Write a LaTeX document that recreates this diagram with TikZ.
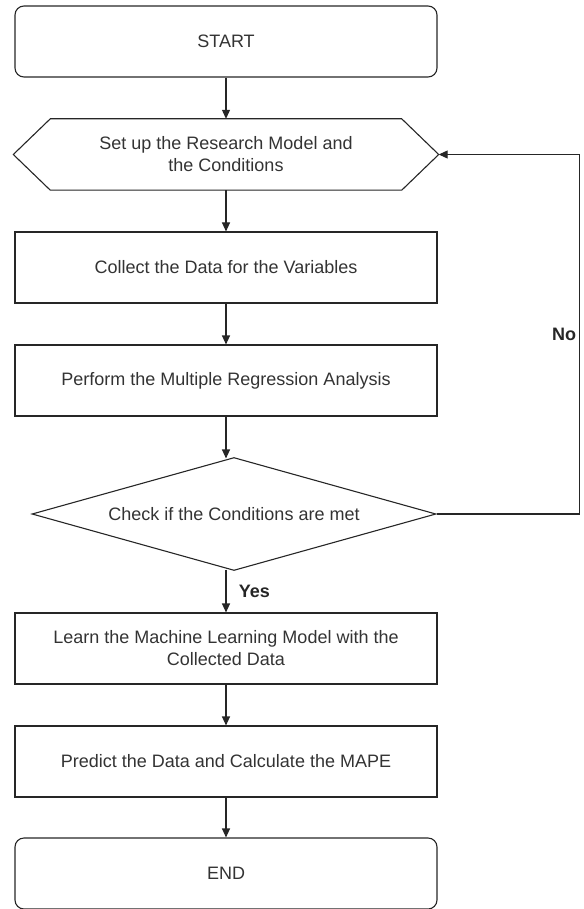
\documentclass[tikz,border=0pt]{standalone}
\usepackage{fontspec}
\setmainfont{Liberation Sans}
\usetikzlibrary{shapes.geometric,arrows.meta}

\begin{document}
\begin{tikzpicture}[node distance=113pt, auto,
  font=\fontsize{18}{22}\selectfont,
  line/.style={draw=black!85, line width=1.1pt},
  terminal/.style={line, rounded corners=9pt, minimum width=422pt, minimum height=71pt, align=center, text=black!80},
  process/.style={line, minimum width=422pt, minimum height=71pt, align=center, text=black!80},
  hexbox/.style={minimum width=425pt, minimum height=71pt, align=center, text=black!80},
  decision/.style={line, diamond, minimum width=404pt, minimum height=113pt, inner sep=0pt, text=black!80},
  flow/.style={line, -{Triangle[length=9pt,width=8pt]}}]

  \useasboundingbox (0,0) rectangle (583pt,-909pt);

  % Nodes
  \node (start) [terminal] at (226pt,-41.5pt) {START};
  \node (set) [hexbox, below of=start] {Set up the Research Model and\\the Conditions};
  \node (collect) [process, below of=set] {Collect the Data for the Variables};
  \node (perform) [process, below of=collect] {Perform the Multiple Regression Analysis};
  \node (check) [decision, below of=perform, node distance=133.5pt, xshift=8pt] {\makebox[0pt]{Check if the Conditions are met}};
  \node (learn) [process, below of=perform, node distance=268pt] {Learn the Machine Learning Model with the\\Collected Data};
  \node (predict) [process, below of=learn] {Predict the Data and Calculate the MAPE};
  \node (end) [terminal, below of=predict, node distance=112pt] {END};

  % Hexagon outline
  \draw[line] ([xshift=37pt]set.north west) -- ([xshift=-37pt]set.north east) -- (set.east)
    -- ([xshift=-37pt]set.south east) -- ([xshift=37pt]set.south west) -- (set.west) -- cycle;

  % Arrows
  \draw[flow] (start) -- (set);
  \draw[flow] (set) -- (collect);
  \draw[flow] (collect) -- (perform);
  \draw[flow] (perform.south) -- ([yshift=-1.5pt]perform.south |- check.north);
  \draw[flow] ([yshift=1.5pt]learn.north |- check.south) -- node[right=9pt, text=black!85] {\textbf{Yes}} (learn.north);
  \draw[flow] (learn) -- (predict);
  \draw[flow] (predict) -- (end);
  \draw[flow] (check.east) -- ++(143pt,0) |- node[pos=0.25, left, inner sep=3pt, text=black!85] {\textbf{No}} (set.east);

\end{tikzpicture}
\end{document}
